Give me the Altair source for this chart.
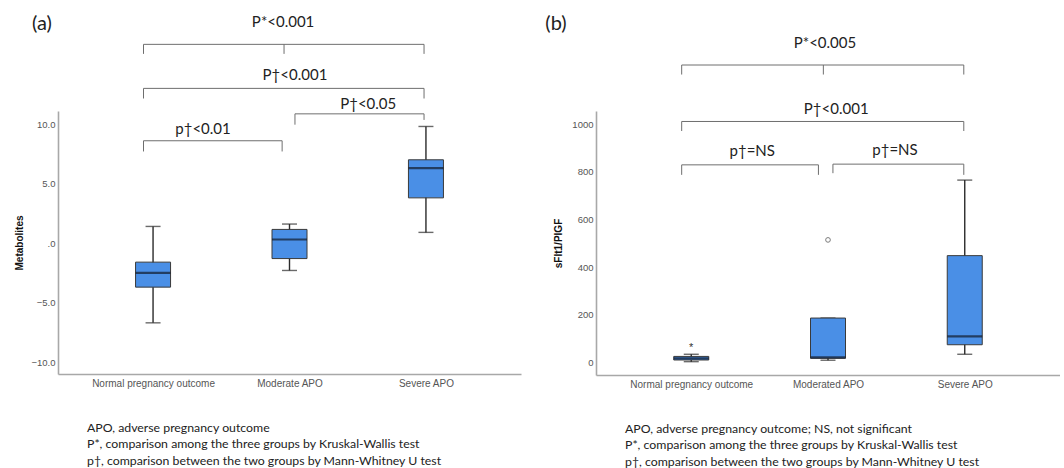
import altair as alt
import pandas as pd

# ---------------- data ----------------
groups_a = ["Normal pregnancy outcome", "Moderate APO", "Severe APO"]
a_low = [-6.7, -2.3, 0.9]
a_q1 = [-3.7, -1.3, 3.8]
a_med = [-2.5, 0.3, 6.3]
a_q3 = [-1.6, 1.15, 7.0]
a_high = [1.4, 1.6, 9.8]

groups_b = ["Normal pregnancy outcome", "Moderated APO", "Severe APO"]
b_low = [4, 10, 35]
b_q1 = [11, 18, 75]
b_med = [18, 22, 110]
b_q3 = [26, 187, 449]
b_high = [35, 187, 766]
b_out_circle_idx = [1]
b_out_circle_val = [515]
b_out_star_idx = [0]
b_out_star_val = [74]

# significance brackets in data units
a_brackets_x1 = [-0.07, -0.07, 1.04, -0.07]
a_brackets_x2 = [1.986, 1.986, 1.986, 0.946]
a_brackets_y = [16.7, 13.0, 10.86, 8.6]
a_brackets_yl = [15.9, 12.15, 9.95, 7.7]
a_brackets_yr = [15.9, 12.15, 10.35, 7.7]
a_brackets_mid = [0.96, None, None, None]
a_labels = ["P*<0.001", "P\u2020<0.001", "P\u2020<0.05", "p\u2020<0.01"]
a_label_x = [0.953, 1.04, 1.577, 0.366]
a_label_y = [18.55, 14.15, 11.7, 9.6]

b_brackets_x1 = [-0.07, -0.07, -0.07, 1.036]
b_brackets_x2 = [1.993, 1.993, 0.93, 1.993]
b_brackets_y = [1249, 1012, 830, 833]
b_brackets_yl = [1209, 972, 788, 795]
b_brackets_yr = [1209, 972, 788, 788]
b_brackets_mid = [0.966, None, None, None]
b_labels = ["P*<0.005", "P\u2020<0.001", "p\u2020=NS", "p\u2020=NS"]
b_label_x = [0.978, 1.06, 0.446, 1.49]
b_label_y = [1340, 1063, 890, 893]

foot_a = ("APO, adverse pregnancy outcome\n"
          "P*, comparison among the three groups by Kruskal-Wallis test\n"
          "p\u2020,  comparison between the two groups by Mann-Whitney U test")
foot_b = ("APO, adverse pregnancy outcome; NS, not significant\n"
          "P*, comparison among the three groups by Kruskal-Wallis test\n"
          "p\u2020,  comparison between the two groups by Mann-Whitney U test")

BOX_FILL = "#4a8fe6"
DARK = "#2b2b2b"
BRACKET = "#6e6e6e"
AXIS = "#a8a8a8"
FONT_ANN = "Lato"
FONT_AX = "Liberation Sans"


def bracket_df(x1, x2, y, yl, yr, mid):
    rows = []
    for i in range(len(x1)):
        rows.append({"x": x1[i], "x2": x2[i], "y": y[i], "y2": y[i]})
        rows.append({"x": x1[i], "x2": x1[i], "y": y[i], "y2": yl[i]})
        rows.append({"x": x2[i], "x2": x2[i], "y": y[i], "y2": yr[i]})
        if mid[i] is not None:
            rows.append({"x": mid[i], "x2": mid[i], "y": y[i], "y2": yl[i]})
    return pd.DataFrame(rows)


def panel(groups, low, q1, med, q3, high, ydomain, yvalues, ylabel_expr, ytitle,
          title_pad, bx1, bx2, by, byl, byr, bmid, labels, lx, ly, foot, tag, tag_dx,
          width, height, extra=None):
    df = pd.DataFrame({"idx": list(range(len(groups))), "low": low, "q1": q1,
                       "med": med, "q3": q3, "high": high})
    label_expr = "[" + ",".join("'" + g + "'" for g in groups) + "][datum.value]"
    xs = alt.Scale(domain=[-0.66, 2.66], nice=False, zero=False)
    ys = alt.Scale(domain=ydomain, nice=False, zero=False)
    xenc = alt.X("idx:Q", scale=xs, title=None,
                 axis=alt.Axis(values=[0, 1, 2], labelExpr=label_expr, ticks=False,
                               grid=False, domainColor=AXIS, domainWidth=1.6,
                               labelFont=FONT_AX, labelFontSize=10, labelColor="#555",
                               labelPadding=4))
    base = alt.Chart(df)
    whisk = base.mark_rule(color=DARK, strokeWidth=1.4).encode(
        x=xenc,
        y=alt.Y("low:Q", scale=ys, title=ytitle,
                axis=alt.Axis(values=yvalues, labelExpr=ylabel_expr, ticks=False,
                              grid=False, domainColor=AXIS, domainWidth=1.6,
                              labelFont=FONT_AX, labelFontSize=9.5, labelColor="#555",
                              labelPadding=3, titleFont=FONT_AX, titleFontSize=10,
                              titleFontWeight="bold", titleColor="#111",
                              titlePadding=title_pad)),
        y2="high:Q")
    cap_lo = base.mark_tick(color=DARK, size=15, thickness=1.4, orient="horizontal").encode(
        x=alt.X("idx:Q", scale=xs), y=alt.Y("low:Q", scale=ys))
    cap_hi = base.mark_tick(color=DARK, size=15, thickness=1.4, orient="horizontal").encode(
        x=alt.X("idx:Q", scale=xs), y=alt.Y("high:Q", scale=ys))
    box = base.mark_bar(size=35, color=BOX_FILL, stroke="#3a3a3a", strokeWidth=1).encode(
        x=alt.X("idx:Q", scale=xs), y=alt.Y("q1:Q", scale=ys), y2="q3:Q")
    median = base.mark_tick(color="#111a2a", size=35, thickness=2.2, orient="horizontal").encode(
        x=alt.X("idx:Q", scale=xs), y=alt.Y("med:Q", scale=ys))

    bdf = bracket_df(bx1, bx2, by, byl, byr, bmid)
    brackets = alt.Chart(bdf).mark_rule(color=BRACKET, strokeWidth=1).encode(
        x=alt.X("x:Q", scale=xs), x2="x2:Q", y=alt.Y("y:Q", scale=ys), y2="y2:Q")
    ldf = pd.DataFrame({"x": lx, "y": ly, "t": labels})
    texts = alt.Chart(ldf).mark_text(font=FONT_ANN, fontSize=15, color="#222",
                                     baseline="middle", align="center").encode(
        x=alt.X("x:Q", scale=xs), y=alt.Y("y:Q", scale=ys), text="t:N")
    fdf = pd.DataFrame({"t": [foot]})
    footnote = alt.Chart(fdf).mark_text(font=FONT_ANN, fontSize=12.3, color="#222",
                                        align="left", baseline="top", lineBreak="\n",
                                        lineHeight=16.5).encode(
        x=alt.value(29), y=alt.value(height + 47.5), text="t:N")
    tdf = pd.DataFrame({"t": [tag]})
    tagmark = alt.Chart(tdf).mark_text(font=FONT_ANN, fontSize=20, color="#222",
                                       align="center", baseline="middle").encode(
        x=alt.value(tag_dx), y=alt.value(-87), text="t:N")
    layers = [brackets, whisk, cap_lo, cap_hi, box, median]
    if extra is not None:
        layers += extra(xs, ys)
    layers += [texts, footnote, tagmark]
    return alt.layer(*layers).properties(width=width, height=height)


def extra_b(xs, ys):
    cdf = pd.DataFrame({"idx": b_out_circle_idx, "v": b_out_circle_val})
    sdf = pd.DataFrame({"idx": b_out_star_idx, "v": b_out_star_val, "t": ["*"] * len(b_out_star_idx)})
    circ = alt.Chart(cdf).mark_point(shape="circle", size=22, color="#444", strokeWidth=1,
                                     filled=False).encode(
        x=alt.X("idx:Q", scale=xs), y=alt.Y("v:Q", scale=ys))
    star = alt.Chart(sdf).mark_text(font=FONT_AX, fontSize=11, color="#333",
                                    baseline="middle", dy=3).encode(
        x=alt.X("idx:Q", scale=xs), y=alt.Y("v:Q", scale=ys), text="t:N")
    return [circ, star]


pa = panel(groups_a, a_low, a_q1, a_med, a_q3, a_high, [-11, 11.1],
           [-10, -5, 0, 5, 10],
           "datum.value == 0 ? '.0' : format(datum.value, '.1f')", "Metabolites", 6,
           a_brackets_x1, a_brackets_x2, a_brackets_y, a_brackets_yl, a_brackets_yr,
           a_brackets_mid, a_labels, a_label_x, a_label_y, foot_a, "(a)", -16,
           463, 263)
pb = panel(groups_b, b_low, b_q1, b_med, b_q3, b_high, [-52, 1056],
           [0, 200, 400, 600, 800, 1000], "format(datum.value, 'd')", "sFlt1/PIGF", 8,
           b_brackets_x1, b_brackets_x2, b_brackets_y, b_brackets_yl, b_brackets_yr,
           b_brackets_mid, b_labels, b_label_x, b_label_y, foot_b, "(b)", -40,
           464, 264, extra=extra_b)

chart = alt.hconcat(pa, pb, spacing=75, bounds="flush").properties(
    padding={"left": 14, "top": 14, "right": 0, "bottom": 0},
    background="white",
).configure_view(stroke=None)

chart.save("out.html", embed_options={"renderer": "svg", "actions": False})
